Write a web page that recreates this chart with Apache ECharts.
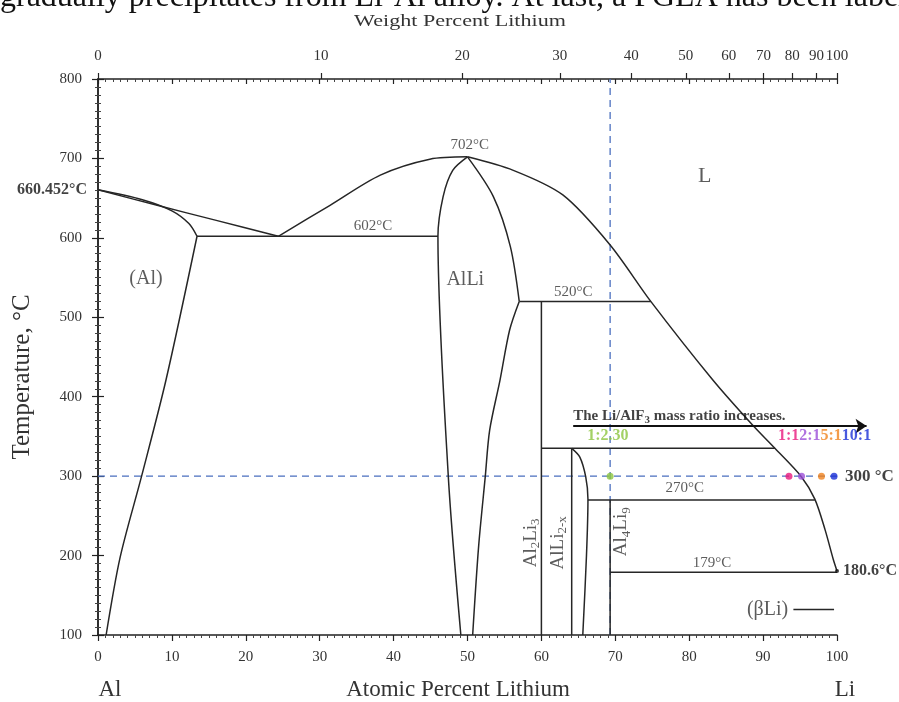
<!DOCTYPE html>
<html>
<head>
<meta charset="utf-8">
<script src="https://cdn.jsdelivr.net/npm/echarts@6/dist/echarts.min.js"></script>
<style>
  html, body { margin: 0; padding: 0; background: #fff; }
  #chart { width: 899px; height: 702px; }
</style>
</head>
<body>
<div id="chart"></div>
<script>
const FONT = '"Liberation Serif", "Times New Roman", serif';

// phase boundaries, [atomic % Li, temperature °C]
const liquidusAl = [[0, 660.452], [8, 641], [16, 622], [24.4, 602]];
const solidusAl = [[0, 660.452], [6, 648], [10, 634], [12.3, 618], [13.4, 602]];
const solvusAl = [[13.4, 602], [9.2, 421], [5.9, 300], [3.0, 198], [1.1, 100]];
const eutectic602 = [[13.4, 602], [46.0, 602]];
const liquidusLeft = [[24.4, 602], [31.4, 641], [38.2, 679], [44.9, 699], [50, 702]];
const liquidusRight = [[50, 702], [56.2, 685], [62.9, 654], [69.3, 591], [74.8, 520],
  [83.2, 421], [88.6, 364], [91.6, 335], [95.2, 299], [97.0, 271], [98.4, 232], [99.5, 195], [100, 180.6]];
const alliLeft = [[50, 702], [48.0, 685], [46.7, 652], [46.0, 602], [47.4, 300], [49.1, 100]];
const alliRightUpper = [[50, 702], [53.5, 652], [55.8, 589], [57.0, 520]];
const alliRightLower = [[57.0, 520], [55.7, 484], [54.4, 421], [53.0, 358], [52.4, 299], [51.5, 211], [50.7, 100]];
const peritectic520 = [[57.0, 520], [74.8, 520]];
const al2li3 = [[60, 520], [60, 100]];
const peritectic335 = [[60, 335], [91.6, 335]];
const alli2xLeft = [[64.1, 335], [64.1, 100]];
const alli2xRight = [[64.1, 335], [65.2, 324], [66.0, 299], [66.3, 271], [66.1, 200], [65.6, 100]];
const peritectic270 = [[66.3, 270], [97.0, 270]];
const al4li9 = [[69.3, 270], [69.3, 100]];
const eutectic179 = [[69.3, 179], [100, 179]];
const betaLiLeader = [[94.1, 132], [99.6, 132]];

const smoothSet = ['liquidusAl', 'solidusAl', 'solvusAl', 'liquidusLeft', 'liquidusRight', 'alliLeft',
  'alliRightUpper', 'alliRightLower', 'alli2xRight'];
const boundaries = {liquidusAl, solidusAl, solvusAl, eutectic602, liquidusLeft, liquidusRight, alliLeft,
  alliRightUpper, alliRightLower, peritectic520, al2li3, peritectic335, alli2xLeft, alli2xRight,
  peritectic270, al4li9, eutectic179, betaLiLeader};

// guide lines
const isotherm300 = [[0, 300], [100, 300]];
const ratio230Line = [[69.3, 100], [69.3, 800]];

// Li/AlF3 ratio points at 300 °C
const ratioNames = ['1:2.30', '1:1', '2:1', '5:1', '10:1'];
const ratioX = [69.3, 93.5, 95.2, 97.9, 99.6];
const ratioColors = ['#8cc63f', '#e8197d', '#9b4fd8', '#f0831e', '#1a2fd6'];

// top axis: weight percent ticks
const weightTicks = [0, 10, 20, 30, 40, 50, 60, 70, 80, 90, 100];
const toAtomic = (w) => {
  const li = w / 6.941, al = (100 - w) / 26.982;
  return w >= 100 ? 100 : 100 * li / (li + al);
};
const weightPos = weightTicks.map(toAtomic);

const chart = echarts.init(document.getElementById('chart'));

const lineSeries = Object.keys(boundaries).map((name) => ({
  name: name,
  type: 'line',
  data: boundaries[name],
  symbol: 'none',
  smooth: smoothSet.includes(name) ? 0.3 : false,
  lineStyle: {color: '#262626', width: 1.5},
  z: 3
}));

const dashStyle = {color: '#4a6fbf', width: 1.3, type: [7, 5]};

const txt = (value, text, size, extra) => ({
  value: value,
  label: Object.assign({show: true, formatter: text, fontFamily: FONT, fontSize: size, color: '#333',
    position: 'inside'}, extra || {})
});

const subRich = {
  n: {fontFamily: FONT, fontSize: 19, color: '#333'},
  s: {fontFamily: FONT, fontSize: 13, color: '#333', padding: [10, 0, 0, 0]}
};

const annotations = [
  txt([6.5, 549], '(Al)', 20),
  txt([49.7, 547], 'AlLi', 20),
  txt([82.1, 678], 'L', 22),
  txt([50.3, 717], '702°C', 15),
  txt([37.2, 615], '602°C', 15),
  txt([64.3, 532], '520°C', 15),
  txt([79.4, 285], '270°C', 15),
  txt([83.1, 191], '179°C', 15),
  txt([90.6, 132], '(βLi)', 20),
  txt([58.6, 216], '{n|Al}{s|2}{n|Li}{s|3}', 19, {rotate: 90, rich: subRich}),
  txt([62.2, 216], '{n|AlLi}{s|2-x}', 19, {rotate: 90, rich: subRich}),
  txt([70.8, 230], '{n|Al}{s|4}{n|Li}{s|9}', 19, {rotate: 90, rich: subRich}),
  txt([0, 660.452], '660.452°C', 16, {position: 'left', distance: 11, fontWeight: 'bold', color: '#111'}),
  txt([100, 300], '300 °C', 17, {position: 'right', distance: 8, fontWeight: 'bold', color: '#111'}),
  txt([100, 180.6], '180.6°C', 16, {position: 'right', distance: 6, fontWeight: 'bold', color: '#111'}),
  txt([64.3, 375], '{t|The Li/AlF}{u|3}{t| mass ratio increases.}', 15, {
    position: 'right', distance: 0,
    rich: {
      t: {fontFamily: FONT, fontSize: 15, fontWeight: 'bold', color: '#111'},
      u: {fontFamily: FONT, fontSize: 11, fontWeight: 'bold', color: '#111', padding: [7, 0, 0, 0]}
    }
  }),
  txt([69.0, 350.5], ratioNames[0], 16, {fontWeight: 'bold', color: ratioColors[0]}),
  txt([92.0, 350.5], ratioNames.slice(1).map((n, i) => '{r' + i + '|' + n + '}').join(''), 16, {
    position: 'right', distance: 0,
    rich: Object.fromEntries(ratioColors.slice(1).map((c, i) => ['r' + i,
      {fontFamily: FONT, fontSize: 16, fontWeight: 'bold', color: c}]))
  })
];

const option = {
  animation: false,
  backgroundColor: '#fff',
  grid: {left: 98, right: 62, top: 79, bottom: 67},
  xAxis: [
    {
      type: 'value', min: 0, max: 100, interval: 10, position: 'bottom',
      axisLine: {lineStyle: {color: '#222', width: 1.5}},
      axisTick: {length: 6, lineStyle: {color: '#222', width: 1.2}},
      minorTick: {show: true, splitNumber: 10, length: 3, lineStyle: {color: '#444'}},
      splitLine: {show: false},
      axisLabel: {fontFamily: FONT, fontSize: 15, color: '#333', margin: 15}
    },
    {
      type: 'value', min: 0, max: 100, interval: 10, position: 'top',
      axisLine: {lineStyle: {color: '#222', width: 1.5}},
      axisTick: {inside: true, length: 5, lineStyle: {color: '#222', width: 1.2}},
      minorTick: {show: true, splitNumber: 10, length: 3, lineStyle: {color: '#444'}},
      splitLine: {show: false},
      axisLabel: {show: false}
    },
    {
      type: 'value', min: 0, max: 100, position: 'top',
      axisLine: {show: false},
      axisTick: {customValues: weightPos, length: 6, lineStyle: {color: '#222', width: 1.2}},
      splitLine: {show: false},
      axisLabel: {
        customValues: weightPos, fontFamily: FONT, fontSize: 15, color: '#333', margin: 15,
        formatter: (v) => {
          let best = 0;
          weightPos.forEach((p, i) => { if (Math.abs(p - v) < Math.abs(weightPos[best] - v)) best = i; });
          return String(weightTicks[best]);
        }
      }
    }
  ],
  yAxis: [
    {
      type: 'value', min: 100, max: 800, interval: 100, position: 'left',
      axisLine: {show: true, lineStyle: {color: '#222', width: 1.5}},
      axisTick: {show: true, length: 6, lineStyle: {color: '#222', width: 1.2}},
      minorTick: {show: true, splitNumber: 10, length: 3, lineStyle: {color: '#444'}},
      splitLine: {show: false},
      axisLabel: {fontFamily: FONT, fontSize: 15, color: '#333', margin: 16}
    },
    {
      type: 'value', min: 100, max: 800, interval: 100, position: 'right',
      axisLine: {show: true, lineStyle: {color: '#222', width: 1.5}},
      axisTick: {show: true, length: 6, lineStyle: {color: '#222', width: 1.2}},
      minorTick: {show: true, splitNumber: 10, length: 3, lineStyle: {color: '#444'}},
      splitLine: {show: false},
      axisLabel: {show: false}
    }
  ],
  graphic: [
    {type: 'text', left: 0, top: -18, style: {
      text: 'gradually precipitates from Li-Al alloy. At last, a PGLA has been labeled',
      font: '32px ' + FONT, fill: '#111'}},
    {type: 'text', x: 460, y: 22, scaleX: 1.3, style: {
      text: 'Weight Percent Lithium', font: '17px ' + FONT, fill: '#333', align: 'center', verticalAlign: 'middle'}},
    {type: 'text', x: 22, y: 377, rotation: Math.PI / 2, style: {
      text: 'Temperature, °C', font: '25px ' + FONT, fill: '#333', align: 'center', verticalAlign: 'middle'}},
    {type: 'text', x: 458, y: 690, style: {
      text: 'Atomic Percent Lithium', font: '23px ' + FONT, fill: '#333', align: 'center', verticalAlign: 'middle'}},
    {type: 'text', x: 110, y: 690, style: {
      text: 'Al', font: '23px ' + FONT, fill: '#333', align: 'center', verticalAlign: 'middle'}},
    {type: 'text', x: 845, y: 690, style: {
      text: 'Li', font: '23px ' + FONT, fill: '#333', align: 'center', verticalAlign: 'middle'}}
  ],
  series: [
    ...lineSeries,
    {type: 'line', data: isotherm300, symbol: 'none', lineStyle: dashStyle, z: 2},
    {type: 'line', data: ratio230Line, symbol: 'none', lineStyle: dashStyle, z: 2},
    {
      type: 'lines', coordinateSystem: 'cartesian2d', clip: false, z: 5,
      symbol: ['none', 'arrow'], symbolSize: 11,
      lineStyle: {color: '#111', width: 2, opacity: 1},
      data: [{coords: [[64.3, 363], [104, 363]]}]
    },
    {
      type: 'scatter', symbolSize: 7, z: 6,
      data: ratioX.map((x, i) => ({value: [x, 300], itemStyle: {color: ratioColors[i]}}))
    },
    {
      type: 'scatter', symbolSize: 4, z: 6, itemStyle: {color: '#111'},
      data: [[100, 180.6]]
    },
    {
      type: 'scatter', symbolSize: 0, clip: false, z: 7, silent: true,
      data: annotations
    }
  ]
};

chart.setOption(option);
</script>
</body>
</html>
